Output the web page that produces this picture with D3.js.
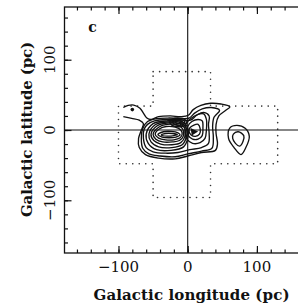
<!DOCTYPE html>
<html>
<head>
<meta charset="utf-8">
<script src="https://cdn.jsdelivr.net/npm/d3@7"></script>
<style>
  body { margin: 0; background: #fff; }
</style>
</head>
<body>
<script>
// ticks
const minorTicks = [-160, -140, -120, -100, -80, -60, -40, -20, 0, 20, 40, 60, 80, 100, 120, 140, 160]
const majorTicks = [-100, 0, 100]

// dotted survey region (pc)
const crossOutline = [[-50, 83], [33, 83], [33, 34], [130, 34], [130, -48], [33, -48], [33, -96],
  [-50, -96], [-50, -48], [-100, -48], [-100, 34], [-50, 34]]

// contours, [longitude, latitude] in pc
// outermost level, open at the "head" on the left
const outerContour = [[-93, 19], [-81, 16.5], [-70, 14], [-64, 9], [-67, 0], [-71, -12], [-70, -25],
  [-61, -35], [-42, -40], [-18, -41], [0, -37], [20, -32], [40, -29], [43, -20], [41, -5], [41, 8],
  [45, 20], [55, 28], [61, 33], [48, 37], [33, 38], [19, 35], [8, 29], [1, 21], [-10, 19], [-25, 20],
  [-42, 19], [-53, 15], [-59, 17], [-64, 24], [-69, 31], [-78, 35.5], [-86, 35], [-93, 32]]

const ring2 = [[-65, 2], [-67, -12], [-65, -26], [-56, -34], [-40, -37], [-18, -38], [0, -34], [20, -30],
  [35, -26], [37, -10], [36, 5], [38, 18], [46, 28], [34, 32], [21, 30], [10, 24], [2, 17], [-12, 16.5],
  [-28, 17], [-46, 16], [-58, 12]]

const ring3 = [[-63, 1], [-64, -12], [-60, -25], [-50, -31], [-32, -33], [-14, -32], [3, -28], [20, -25],
  [30, -19], [31, -5], [30, 8], [31, 20], [23, 25], [13, 21], [4, 14], [-12, 14.5], [-30, 15], [-48, 13],
  [-58, 8]]

const leftRings = [
  [[-60, -6], [-57, -19], [-45, -28], [-24, -29], [-6, -24], [0, -12], [0, 3], [-8, 12], [-30, 13], [-50, 9]],
  [[-56, -6], [-53, -17], [-42, -24], [-23, -25], [-8, -21], [-2, -10], [-2, 3], [-10, 10.5], [-30, 11.5], [-47, 7.5]],
  [[-53, -6], [-49, -15], [-39, -20], [-23, -21], [-10, -18], [-4, -9], [-4, 2], [-12, 9], [-30, 10], [-44, 6]],
  [[-50, -6], [-46, -13], [-36, -17], [-22, -17], [-12, -15], [-6, -8], [-7, 1], [-14, 7], [-30, 8], [-42, 4]],
  [[-47, -6], [-42, -11.5], [-32, -14], [-20, -14], [-11, -11], [-8, -6], [-10, 0], [-18, 4], [-31, 5], [-41, 1.5]],
  [[-43, -6.5], [-37, -10], [-27, -11], [-17, -10], [-11, -7], [-14, -4], [-24, -2], [-35, -2.5]],
  [[-38, -7], [-30, -8.7], [-20, -8], [-15, -6.5], [-22, -5], [-32, -5]]
]

// tight knot of levels above the left lobe, near the zero meridian
const topRings = [
  [[-26, 11], [-21, 16], [-12, 17], [-4, 15], [-2, 10], [-7, 5], [-16, 5], [-23, 7]],
  [[-22, 11], [-17, 14.5], [-11, 15], [-5, 13], [-5, 9.5], [-9, 7], [-16, 7], [-20, 9]],
  [[-18, 11], [-14, 13], [-9, 12.5], [-8, 10.5], [-12, 9], [-16, 9.5]]
]

const rightRings = [
  [[-3, 8], [4, 16], [14, 22], [23, 23], [27, 15], [27, 0], [25, -12], [18, -18], [7, -19], [-1, -13], [-4, -3]],
  [[0, 5], [6, 12], [15, 15], [21, 13], [22, 3], [21, -8], [15, -13], [7, -13], [1, -8], [-1, -1]],
  [[3, 3], [9, 7], [15, 8], [18, 2], [17, -6], [11, -9], [5, -7], [2, -2]]
]
const coreTri = [[4, 3], [15, -2], [6, -8]]

const sideOuter = [[61, 3], [71, 6.5], [83, 2.5], [89, -9], [84, -25], [77, -35], [67, -25], [59, -12]]
const sideInner = [[66, -6], [73, -2.5], [81, -8], [80, -16], [75, -23], [69, -19], [65, -12]]

const headDot = [-80, 29]

const w = 298
const h = 308

const xScale = d3.scaleLinear().domain([-178, 178]).range([64.5, 310.9])
const yScale = d3.scaleLinear().domain([-175, 175]).range([253, 7])

const svg = d3.select("body")
  .append("svg")
  .attr("width", w)
  .attr("height", h)
  .style("display", "block")

// dotted cross
svg.append("path")
  .attr("d", d3.line().x(d => xScale(d[0])).y(d => yScale(d[1])).curve(d3.curveLinearClosed)(crossOutline))
  .attr("fill", "none")
  .attr("stroke", "#333")
  .attr("stroke-width", 1.6)
  .attr("stroke-linecap", "round")
  .attr("stroke-dasharray", "0.1,6.4")

// zero lines
svg.append("line")
  .attr("x1", xScale(0)).attr("x2", xScale(0))
  .attr("y1", yScale(175)).attr("y2", yScale(-175))
  .attr("stroke", "#111").attr("stroke-width", 1.1)
svg.append("line")
  .attr("x1", xScale(-178)).attr("x2", xScale(178))
  .attr("y1", yScale(0)).attr("y2", yScale(0))
  .attr("stroke", "#111").attr("stroke-width", 1.1)

// contours
const closed = d3.line().x(d => xScale(d[0])).y(d => yScale(d[1])).curve(d3.curveCatmullRomClosed.alpha(0.5))
const open = d3.line().x(d => xScale(d[0])).y(d => yScale(d[1])).curve(d3.curveCatmullRom.alpha(0.5))

const cg = svg.append("g")
  .attr("fill", "none")
  .attr("stroke", "#111")
  .attr("stroke-width", 1.35)

cg.append("path").attr("d", open(outerContour))
cg.selectAll("path.ring")
  .data([ring2, ring3].concat(leftRings, topRings, rightRings, [sideOuter, sideInner]))
  .enter()
  .append("path")
  .attr("class", "ring")
  .attr("d", d => closed(d))

svg.append("path")
  .attr("d", d3.line().x(d => xScale(d[0])).y(d => yScale(d[1])).curve(d3.curveLinearClosed)(coreTri))
  .attr("fill", "#111")

svg.append("circle")
  .attr("cx", xScale(headDot[0]))
  .attr("cy", yScale(headDot[1]))
  .attr("r", 1.8)
  .attr("fill", "#111")

// frame
svg.append("rect")
  .attr("x", xScale(-178)).attr("y", yScale(175))
  .attr("width", xScale(178) - xScale(-178))
  .attr("height", yScale(-175) - yScale(175))
  .attr("fill", "none")
  .attr("stroke", "#111")
  .attr("stroke-width", 1.3)

// ticks, pointing inward
function ticks(axisFn, transform, vals, size) {
  const g = svg.append("g")
    .attr("transform", transform)
    .call(axisFn.tickValues(vals).tickSize(-size).tickFormat(""))
  g.select(".domain").remove()
  g.selectAll("line").attr("stroke", "#111").attr("stroke-width", 1.2)
  g.selectAll("text").remove()
}
ticks(d3.axisBottom(xScale), "translate(0," + yScale(-175) + ")", minorTicks, 3.5)
ticks(d3.axisBottom(xScale), "translate(0," + yScale(-175) + ")", majorTicks, 7)
ticks(d3.axisTop(xScale), "translate(0," + yScale(175) + ")", minorTicks, 3.5)
ticks(d3.axisTop(xScale), "translate(0," + yScale(175) + ")", majorTicks, 7)
ticks(d3.axisLeft(yScale), "translate(" + xScale(-178) + ",0)", minorTicks, 3.5)
ticks(d3.axisLeft(yScale), "translate(" + xScale(-178) + ",0)", majorTicks, 7)
ticks(d3.axisRight(yScale), "translate(" + xScale(178) + ",0)", minorTicks, 3.5)
ticks(d3.axisRight(yScale), "translate(" + xScale(178) + ",0)", majorTicks, 7)

const fmt = d3.format("d")

// tick labels
svg.selectAll("text.xl")
  .data(majorTicks)
  .enter()
  .append("text")
  .attr("class", "xl")
  .attr("x", d => xScale(d))
  .attr("y", 272)
  .attr("text-anchor", "middle")
  .style("font-family", "DejaVu Serif")
  .style("font-size", "15px")
  .attr("fill", "#111")
  .text(d => fmt(d))

svg.selectAll("text.yl")
  .data(majorTicks)
  .enter()
  .append("text")
  .attr("class", "yl")
  .attr("transform", d => "translate(54.5," + yScale(d) + ") rotate(-90)")
  .attr("text-anchor", "middle")
  .style("font-family", "DejaVu Serif")
  .style("font-size", "15px")
  .attr("fill", "#111")
  .text(d => fmt(d))

// titles
svg.append("text")
  .attr("x", 191.5)
  .attr("y", 300)
  .attr("text-anchor", "middle")
  .attr("textLength", 196)
  .style("font-family", "DejaVu Serif")
  .style("font-weight", "bold")
  .style("font-size", "15px")
  .attr("fill", "#111")
  .text("Galactic longitude (pc)")

svg.append("text")
  .attr("transform", "translate(32,129.5) rotate(-90)")
  .attr("text-anchor", "middle")
  .attr("textLength", 175)
  .style("font-family", "DejaVu Serif")
  .style("font-weight", "bold")
  .style("font-size", "15px")
  .attr("fill", "#111")
  .text("Galactic latitude (pc)")

svg.append("text")
  .attr("x", 92.5)
  .attr("y", 31.5)
  .attr("text-anchor", "middle")
  .style("font-family", "DejaVu Serif")
  .style("font-weight", "bold")
  .style("font-size", "14px")
  .attr("fill", "#111")
  .text("c")
</script>
</body>
</html>
